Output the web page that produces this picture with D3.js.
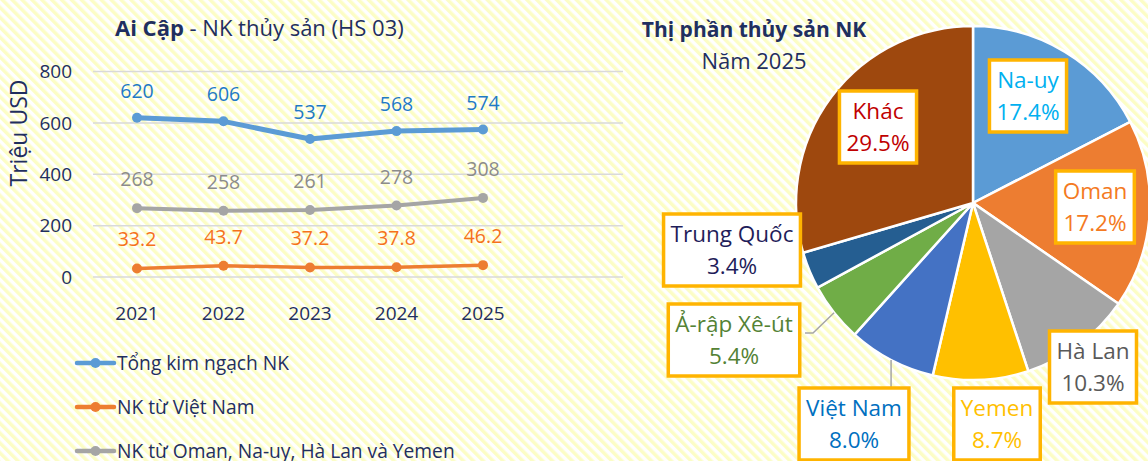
<!DOCTYPE html>
<html>
<head>
<meta charset="utf-8">
<script src="https://cdn.jsdelivr.net/npm/d3@7"></script>
<style>
  body { margin: 0; }
  svg { display: block; font-family: "Open Sans", sans-serif; }
</style>
</head>
<body>
<div id="chart"></div>
<script>
// line chart data (triệu USD)
const years = ["2021", "2022", "2023", "2024", "2025"];
const totalImport = [620, 606, 537, 568, 574];
const fromVietnam = [33.2, 43.7, 37.2, 37.8, 46.2];
const fromTop4 = [268, 258, 261, 278, 308];
const seriesNames = ["Tổng kim ngạch NK", "NK từ Việt Nam", "NK từ Oman, Na-uy, Hà Lan và Yemen"];
const yTicks = [0, 200, 400, 600, 800];

// pie data, năm 2025 (%)
const markets = ["Na-uy", "Oman", "Hà Lan", "Yemen", "Việt Nam", "Ả-rập Xê-út", "Trung Quốc", "Khác"];
const shares = [17.4, 17.2, 10.3, 8.7, 8.0, 5.4, 3.4, 29.5];

const width = 1148, height = 461;
const navy = "#1f2f5f";

const svg = d3.select("#chart")
    .append("svg")
    .attr("width", width)
    .attr("height", height);

// striped background
const defs = svg.append("defs");
const pat = defs.append("pattern")
    .attr("id", "stripes")
    .attr("patternUnits", "userSpaceOnUse")
    .attr("width", 7)
    .attr("height", 7)
    .attr("patternTransform", "rotate(-45)");
pat.append("rect").attr("width", 7).attr("height", 7).attr("fill", "#ffffff");
pat.append("rect").attr("width", 3.5).attr("height", 7).attr("fill", "#fcfdc6");

svg.append("rect")
    .attr("width", width)
    .attr("height", height)
    .attr("fill", "url(#stripes)");

// ---------- line chart ----------
const x = d3.scalePoint()
    .domain(years)
    .range([137, 483]);
const y = d3.scaleLinear()
    .domain([0, 800])
    .range([277, 71.5]);

const title = svg.append("text")
    .attr("x", 115)
    .attr("y", 36)
    .attr("fill", navy)
    .style("font-size", "22px");
title.append("tspan").style("font-weight", "bold").text("Ai Cập");
title.append("tspan").text(" - NK thủy sản (HS 03)");

// grid
svg.append("g")
    .selectAll("line")
    .data(yTicks)
    .enter()
    .append("line")
    .attr("x1", 93)
    .attr("x2", 623)
    .attr("y1", d => y(d))
    .attr("y2", d => y(d))
    .attr("stroke", "#d9d9d9")
    .attr("stroke-width", 1.5);

// y labels
svg.append("g")
    .selectAll("text")
    .data(yTicks)
    .enter()
    .append("text")
    .attr("x", 72)
    .attr("y", d => y(d))
    .attr("dy", "0.36em")
    .attr("text-anchor", "end")
    .attr("fill", navy)
    .style("font-size", "19px")
    .text(d => d);

svg.append("text")
    .attr("transform", "rotate(-90)")
    .attr("x", -133)
    .attr("y", 27)
    .attr("text-anchor", "middle")
    .attr("fill", navy)
    .style("font-size", "23px")
    .text("Triệu USD");

// x labels
svg.append("g")
    .selectAll("text")
    .data(years)
    .enter()
    .append("text")
    .attr("x", d => x(d))
    .attr("y", 313)
    .attr("dy", "0.36em")
    .attr("text-anchor", "middle")
    .attr("fill", navy)
    .style("font-size", "19px")
    .text(d => d);

const series = [
    {name: seriesNames[2], values: fromTop4, color: "#a5a5a5", label: "#8c8c8c", w: 4, off: 29},
    {name: seriesNames[1], values: fromVietnam, color: "#ed7d31", label: "#f5721c", w: 3.5, off: 29},
    {name: seriesNames[0], values: totalImport, color: "#5b9bd5", label: "#1f7ac6", w: 5, off: 27}
];

const line = d3.line()
    .x((d, i) => x(years[i]))
    .y(d => y(d));

series.forEach(s => {
    svg.append("path")
        .datum(s.values)
        .attr("fill", "none")
        .attr("stroke", s.color)
        .attr("stroke-width", s.w)
        .attr("stroke-linejoin", "round")
        .attr("d", line);
    svg.append("g")
        .selectAll("circle")
        .data(s.values)
        .enter()
        .append("circle")
        .attr("cx", (d, i) => x(years[i]))
        .attr("cy", d => y(d))
        .attr("r", 5)
        .attr("fill", s.color);
    svg.append("g")
        .selectAll("text")
        .data(s.values)
        .enter()
        .append("text")
        .attr("x", (d, i) => x(years[i]))
        .attr("y", d => y(d) - s.off)
        .attr("dy", "0.36em")
        .attr("text-anchor", "middle")
        .attr("fill", s.label)
        .style("font-size", "19.5px")
        .text(d => d);
});

// legend
const legendColors = ["#5b9bd5", "#ed7d31", "#a5a5a5"];
seriesNames.forEach((name, i) => {
    const ly = 363 + i * 44;
    svg.append("line")
        .attr("x1", 77).attr("x2", 114)
        .attr("y1", ly).attr("y2", ly)
        .attr("stroke", legendColors[i])
        .attr("stroke-width", 4.5)
        .attr("stroke-linecap", "round");
    svg.append("circle")
        .attr("cx", 95.5).attr("cy", ly)
        .attr("r", 5)
        .attr("fill", legendColors[i]);
    svg.append("text")
        .attr("x", 117)
        .attr("y", ly)
        .attr("dy", "0.36em")
        .attr("fill", navy)
        .style("font-size", "19.2px")
        .text(name);
});

// ---------- pie ----------
const cx = 973, cy = 203, r = 177;
const pieColors = ["#5b9bd5", "#ed7d31", "#a5a5a5", "#ffc000", "#4472c4", "#70ad47", "#255e91", "#9e480e"];
const textColors = ["#00b0f0", "#f47a22", "#595959", "#ffc000", "#0070c0", "#548235", "#1f1d5a", "#c00000"];
// label box centres, as placed in the original
const boxPos = [[1028, 96], [1095, 207], [1093, 367], [997, 424], [854, 424], [734, 340], [732, 250], [878, 127]];

svg.append("text")
    .attr("x", 754).attr("y", 37)
    .attr("text-anchor", "middle")
    .attr("fill", navy)
    .style("font-size", "21px")
    .style("font-weight", "bold")
    .text("Thị phần thủy sản NK");
svg.append("text")
    .attr("x", 754).attr("y", 69)
    .attr("text-anchor", "middle")
    .attr("fill", navy)
    .style("font-size", "22px")
    .text("Năm 2025");

const pie = d3.pie().sort(null).value(d => d);
const arcs = pie(shares);
const arc = d3.arc().innerRadius(0).outerRadius(r);

const pg = svg.append("g").attr("transform", `translate(${cx},${cy})`);
pg.selectAll("path")
    .data(arcs)
    .enter()
    .append("path")
    .attr("d", arc)
    .attr("fill", (d, i) => pieColors[i])
    .attr("stroke", "#fff")
    .attr("stroke-width", 2.5);

// leader lines for the two labels set away from their slice
[4, 5].forEach(i => {
    const a = (arcs[i].startAngle + arcs[i].endAngle) / 2;
    const px = cx + r * Math.sin(a), py = cy - r * Math.cos(a);
    let pts;
    if (i === 4) pts = [[px, py], [px, boxPos[i][1] - 36]];
    else pts = [[px, py], [813, 333], [805, 333]];
    svg.append("path")
        .attr("d", d3.line()(pts))
        .attr("fill", "none")
        .attr("stroke", "#a6a6a6")
        .attr("stroke-width", 1.5);
});

markets.forEach((m, i) => {
    const g = svg.append("g").attr("transform", `translate(${boxPos[i][0]},${boxPos[i][1]})`);
    const rect = g.append("rect");
    const t1 = g.append("text")
        .attr("y", -16).attr("dy", "0.36em")
        .attr("text-anchor", "middle")
        .attr("fill", textColors[i])
        .style("font-size", "22.5px")
        .text(m);
    const t2 = g.append("text")
        .attr("y", 16).attr("dy", "0.36em")
        .attr("text-anchor", "middle")
        .attr("fill", textColors[i])
        .style("font-size", "22.5px")
        .text(shares[i].toFixed(1) + "%");
    const w = Math.max(t1.node().getComputedTextLength(), t2.node().getComputedTextLength()) + 14;
    rect.attr("x", -w / 2).attr("y", -36)
        .attr("width", w).attr("height", 72)
        .attr("fill", "#fff")
        .attr("stroke", "#ffb400")
        .attr("stroke-width", 3.5);
});
</script>
</body>
</html>
